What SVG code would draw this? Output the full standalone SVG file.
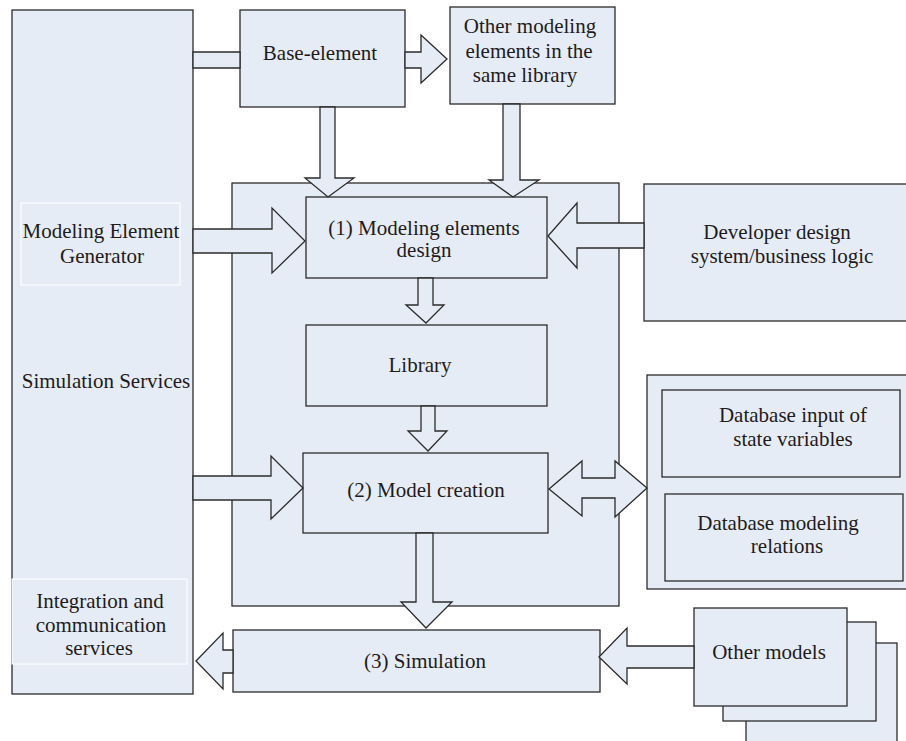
<svg xmlns="http://www.w3.org/2000/svg" width="906" height="741" viewBox="0 0 906 741">
<style>
.b{fill:#E6ECF5;stroke:#2b2b2b;stroke-width:1.3}
.s{fill:#E6ECF5;stroke:#ffffff;stroke-width:1}
.a{fill:#E6ECF5;stroke:#2b2b2b;stroke-width:1.3;stroke-linejoin:miter}
.t{font-family:'Liberation Serif','Times New Roman',serif;font-size:21px;fill:#1e1b1c;text-anchor:middle}
</style>
<rect width="906" height="741" fill="#ffffff"/>
<g id="simulation-services">
<rect class="b" x="12" y="10" width="181" height="684"/>
<text class="t" x="106" y="388">Simulation Services</text>
</g>
<g id="modeling-element-generator">
<rect class="s" x="21" y="203" width="159" height="82"/>
<text class="t" x="101" y="238">Modeling Element</text>
<text class="t" x="102" y="263">Generator</text>
</g>
<g id="integration-services">
<rect class="s" x="12" y="579" width="175" height="85"/>
<text class="t" x="100" y="608">Integration and</text>
<text class="t" x="101" y="632">communication</text>
<text class="t" x="99" y="655">services</text>
</g>
<g id="base-element">
<rect class="b" x="240" y="10" width="165" height="97"/>
<text class="t" x="320" y="60">Base-element</text>
</g>
<g id="other-modeling-elements">
<rect class="b" x="450" y="7" width="165" height="97"/>
<text class="t" x="530" y="33">Other modeling</text>
<text class="t" x="529" y="58">elements in the</text>
<text class="t" x="525" y="82">same library</text>
</g>
<g id="center-panel">
<rect class="b" x="232" y="183" width="387" height="423"/>
</g>
<g id="modeling-elements-design">
<rect class="b" x="306" y="197" width="241" height="81"/>
<text class="t" x="424" y="235">(1) Modeling elements</text>
<text class="t" x="424" y="257">design</text>
</g>
<g id="library">
<rect class="b" x="306" y="325" width="241" height="81"/>
<text class="t" x="420" y="372">Library</text>
</g>
<g id="model-creation">
<rect class="b" x="303" y="453" width="245" height="80"/>
<text class="t" x="426" y="497">(2) Model creation</text>
</g>
<g id="developer-design">
<rect class="b" x="644" y="184" width="270" height="137"/>
<text class="t" x="777" y="239">Developer design</text>
<text class="t" x="782" y="263">system/business logic</text>
</g>
<g id="database-panel">
<rect class="b" x="647" y="375" width="270" height="214"/>
</g>
<g id="database-input">
<rect class="b" x="662" y="390" width="238" height="87"/>
<text class="t" x="793" y="422">Database input of</text>
<text class="t" x="793" y="446">state variables</text>
</g>
<g id="database-relations">
<rect class="b" x="665" y="494" width="238" height="87"/>
<text class="t" x="778" y="530">Database modeling</text>
<text class="t" x="787" y="553">relations</text>
</g>
<g id="simulation">
<rect class="b" x="233" y="630" width="367" height="62"/>
<text class="t" x="425" y="668">(3) Simulation</text>
</g>
<g id="other-models">
<rect class="b" x="746" y="643" width="151" height="105"/>
<rect class="b" x="723" y="622" width="153" height="99"/>
<rect class="b" x="694" y="608" width="153" height="98"/>
<text class="t" x="769" y="659">Other models</text>
</g>
<g id="connectors">
<polygon class="a" points="193,52 240,52 240,68 193,68"/>
<polygon class="a" points="405,52 421,52 421,35 447,59 421,83 421,68 405,68"/>
<polygon class="a" points="320,107 335,107 335,178 354,178 328,197 305,178 320,178"/>
<polygon class="a" points="503,104 520,104 520,180 539,180 513,197 489,180 503,180"/>
<polygon class="a" points="193,229 272,229 272,208 305,241 272,273 272,253 193,253"/>
<polygon class="a" points="644,223 577,223 577,203 548,236 577,268 577,248 644,248"/>
<polygon class="a" points="418,278 433,278 433,305 444,305 426,323 406,305 418,305"/>
<polygon class="a" points="421,406 435,406 435,431 447,431 428,451 408,431 421,431"/>
<polygon class="a" points="193,476 271,476 271,456 303,488 271,519 271,500 193,500"/>
<polygon class="a" points="549,489 582,461 582,478 615,478 615,461 647,488 615,517 615,498 582,498 582,516"/>
<polygon class="a" points="416,533 433,533 433,602 452,602 426,628 401,602 416,602"/>
<polygon class="a" points="233,650 223,650 223,633 196,661 223,689 223,673 233,673"/>
<polygon class="a" points="694,646 627,646 627,628 599,657 627,684 627,668 694,668"/>
</g>
</svg>
